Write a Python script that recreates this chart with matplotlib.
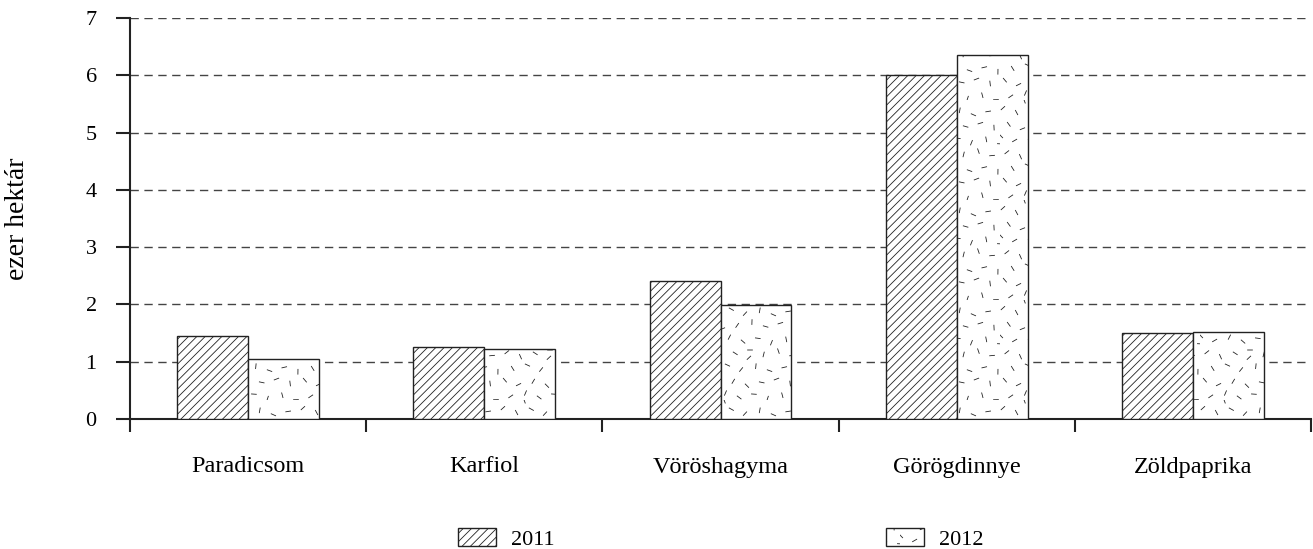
import numpy as np
import matplotlib
matplotlib.use("Agg")
from matplotlib import pyplot as plt
from matplotlib import hatch as mhatch
from matplotlib.path import Path

categories = ['Paradicsom', 'Karfiol', 'Vöröshagyma', 'Görögdinnye', 'Zöldpaprika']
values_2011 = [1.45, 1.25, 2.41, 6.00, 1.50]
values_2012 = [1.04, 1.22, 1.99, 6.35, 1.52]
series_labels = ['2011', '2012']
y_ticks = [0, 1, 2, 3, 4, 5, 6, 7]


class ScatteredDashes(mhatch.HatchPatternBase):
    """Short dashes at scattered angles, used for the 2012 bars (hatch char 'r')."""
    n_dashes = 52

    def __init__(self, hatch, density):
        self.num_vertices = 2 * self.n_dashes if 'r' in hatch else 0

    def set_vertices_and_codes(self, vertices, codes):
        k = np.arange(self.n_dashes)
        # fixed low-discrepancy placement: looks scattered, same every run
        cx = (0.5 + k * 0.7548776662) % 1.0
        cy = (0.5 + k * 0.5698402910) % 1.0
        ang = np.deg2rad((k * 67) % 180)
        half = 0.024
        dx, dy = half * np.cos(ang), half * np.sin(ang)
        vertices[0::2, 0] = cx - dx
        vertices[0::2, 1] = cy - dy
        vertices[1::2, 0] = cx + dx
        vertices[1::2, 1] = cy + dy
        codes[0::2] = Path.MOVETO
        codes[1::2] = Path.LINETO


mhatch._hatch_types.append(ScatteredDashes)

plt.rcParams['font.family'] = ['Liberation Serif', 'DejaVu Serif']
plt.rcParams['font.size'] = 16
plt.rcParams['hatch.linewidth'] = 0.6
plt.rcParams['hatch.color'] = 'black'

fig = plt.figure(figsize=(13.13, 5.49), dpi=100)
ax = fig.add_axes([130 / 1313, 1 - 419 / 549, 1181 / 1313, 401 / 549])

x = np.arange(len(categories))
w = 0.3
ax.bar(x - w / 2, values_2011, w, facecolor='white', edgecolor='#222222',
       linewidth=1.0, hatch='////', label=series_labels[0], zorder=3)
ax.bar(x + w / 2, values_2012, w, facecolor='white', edgecolor='#222222',
       linewidth=1.0, hatch='r', label=series_labels[1], zorder=3)

ax.set_xlim(-0.5, len(categories) - 0.5)
ax.set_ylim(0, 7)
ax.set_yticks(y_ticks)
ax.grid(axis='y', linestyle=(0, (6, 4)), color='#444444', linewidth=1.0, zorder=0)

ax.set_xticks(np.arange(len(categories) + 1) - 0.5)
ax.set_xticklabels([])
ax.set_xticks(x, minor=True)
ax.set_xticklabels(categories, minor=True, fontsize=17.5)
ax.tick_params(axis='x', which='major', direction='out', length=9, width=1.5, color='#222222')
ax.tick_params(axis='x', which='minor', length=0, pad=27)
ax.tick_params(axis='y', direction='out', length=10, width=1.5, color='#222222', pad=14)

for side in ['top', 'right']:
    ax.spines[side].set_visible(False)
for side in ['left', 'bottom']:
    ax.spines[side].set_linewidth(1.5)
    ax.spines[side].set_color('#222222')

fig.text(18 / 1313, 1 - 219 / 549, 'ezer hektár', rotation=90, ha='center', va='center',
         fontsize=20)

fig.legend(loc='upper left', bbox_to_anchor=(458 / 1313, 1 - 528 / 549), ncol=2,
           frameon=False, borderpad=0, borderaxespad=0, handlelength=1.71,
           handleheight=0.9, handletextpad=0.68, columnspacing=14.9, fontsize=16)

fig.savefig('out.png', dpi=100)
